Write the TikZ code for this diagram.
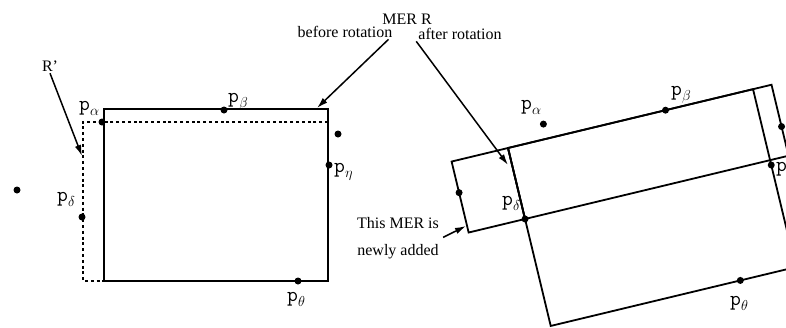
\documentclass[tikz,border=0pt]{standalone}
\usepackage{fontspec}
\setmainfont{Liberation Serif}
\usetikzlibrary{arrows.meta}
\newcommand{\pl}[1]{{\ttfamily p}\raisebox{-5pt}{\fontsize{15}{16}\selectfont$#1$}}

\begin{document}
\begin{tikzpicture}[
    x=1pt, y=-1pt,
    mer/.style={line width=1.8pt},
    rline/.style={line width=1.6pt, dash pattern=on 3pt off 2.8pt},
    ptr/.style={-{Latex[length=11pt,width=6.5pt]}, line width=1.5pt},
    dot/.style={circle, fill, inner sep=0pt, minimum size=7pt},
    lbl/.style={font=\fontsize{21}{22}\selectfont, inner sep=0pt, anchor=base west},
    txt/.style={font=\fontsize{16}{18}\selectfont, inner sep=2pt, anchor=base}
]
\useasboundingbox (0,0) rectangle (786,327);
\clip (0,0) rectangle (786,327);

% Texts
\node[txt] (title) at (407,24) {MER R};
\node[txt] (before) at (345,37) {before rotation};
\node[txt] (after) at (460,39) {after rotation};
\node[txt] (rp) at (50,71) {R'};
\node[txt] (added1) at (398,228) {This MER is};
\node[txt] (added2) at (398,255) {newly added};

% MER R before rotation and R'
\draw[mer] (104,109) rectangle (328,281);
\draw[rline] (328,122) -- (83,122) -- (83,281) -- (104,281);

% Points before rotation
\foreach \n/\x/\y in {la/102/122, lb/224/110, lx/338/134, le/329/165, lo/17/190, ld/82/217, lt/298/281}
    \node[dot] (\n) at (\x,\y) {};

\node[lbl] (lpa) at (79,110) {\pl{\alpha}};
\node[lbl] (lpb) at (228,102) {\pl{\beta}};
\node[lbl] (lpe) at (334,172) {\pl{\eta}};
\node[lbl] (lpd) at (57,201) {\pl{\delta}};
\node[lbl] (lpt) at (287,301) {\pl{\theta}};

% MER R after rotation
\begin{scope}[shift={(508,148)}, rotate=13.5]
    \draw[mer] (0,0) rectangle (252,183);
    \draw[mer] (0,0) rectangle (271,73);
    \draw[mer] (-58,0) rectangle (0,73);
    \foreach \n/\x/\y in {ra/40/-15, rb/162/0, rd/0/73, rn/-58/32, rs/271/43, re/252/78, rt/195/183}
        \node[dot] (\n) at (\x,\y) {};
\end{scope}

\node[lbl] (rpa) at (521,109) {\pl{\alpha}};
\node[lbl] (rpb) at (671,95) {\pl{\beta}};
\node[lbl] (rpd) at (502,205) {\pl{\delta}};
\node[lbl] (rpt) at (730,305) {\pl{\theta}};
\node[lbl] (rpe) at (776,171) {\pl{\eta}};

% Pointers
\coordinate (rtip) at (82,156);
\coordinate (btip) at (317,108);
\coordinate (atip) at (508,165);
\coordinate (ntip) at (466,226);
\draw[ptr] (rp.south) -- (rtip);
\draw[ptr] ([xshift=-6pt]before.south east) -- (btip);
\draw[ptr] (after.south west) -- (atip);
\draw[ptr] ([shift={(2,7)}]added1.south east) -- (ntip);
\end{tikzpicture}
\end{document}
